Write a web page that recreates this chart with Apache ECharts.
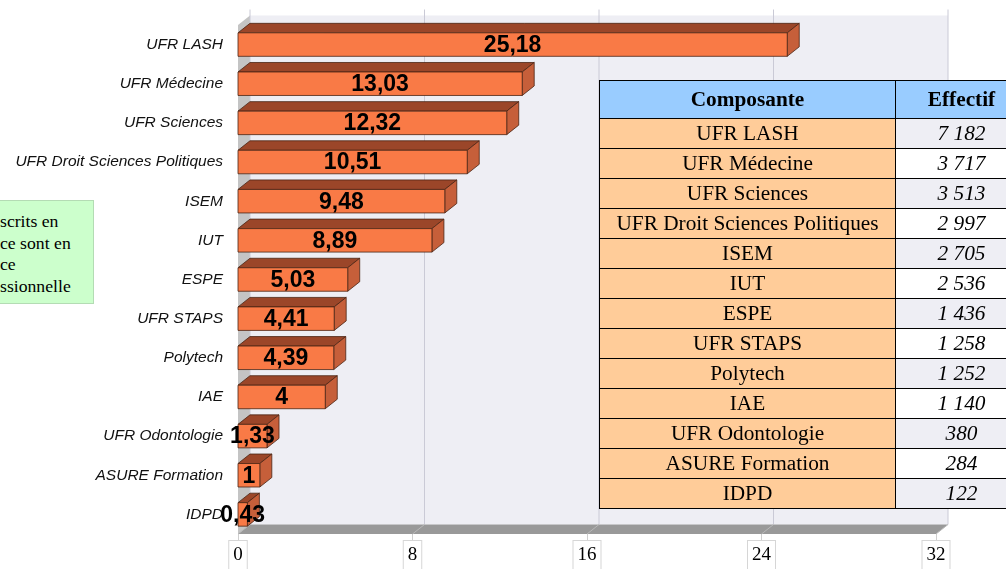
<!DOCTYPE html>
<html>
<head>
<meta charset="utf-8">
<title>Composantes</title>
<script src="https://cdn.jsdelivr.net/npm/echarts@6/dist/echarts.min.js"></script>
<style>
html, body { margin: 0; padding: 0; background: #fff; overflow: hidden; }
#main { position: absolute; left: 0; top: 0; width: 1006px; height: 569px; }
.note {
  position: absolute; left: -1px; top: 200px; width: 95px; height: 104px;
  box-sizing: border-box; padding-top: 10px;
  background: #ccffcc; border: 1px solid #b4dcb4;
  font-family: "Liberation Serif", serif; font-size: 17.7px; line-height: 21.7px;
  color: #000; white-space: nowrap; overflow: hidden;
}
#table {
  position: absolute; left: 599px; top: 80px; width: 428px;
  border-collapse: collapse; table-layout: fixed;
  font-family: "Liberation Serif", serif; font-size: 21.3px; color: #000;
}
#table td, #table th { border: 1.5px solid #000; padding: 0; text-align: center; height: 29px; white-space: nowrap; }
#table th { background: #99ccff; height: 37px; font-weight: bold; }
#table td.name { background: #ffcc99; }
#table td.val { font-style: italic; background: #fff; }
#table tr.odd td.val { background: #eeeef4; }
</style>
</head>
<body>
<div id="main"></div>
<div class="note">scrits en<br>ce sont en<br>ce<br>ssionnelle</div>
<table id="table"></table>
<script>
var categories = ['UFR LASH', 'UFR Médecine', 'UFR Sciences', 'UFR Droit Sciences Politiques', 'ISEM', 'IUT', 'ESPE', 'UFR STAPS', 'Polytech', 'IAE', 'UFR Odontologie', 'ASURE Formation', 'IDPD'];
var percents = [25.18, 13.03, 12.32, 10.51, 9.48, 8.89, 5.03, 4.41, 4.39, 4, 1.33, 1, 0.43];
var effectifs = [7182, 3717, 3513, 2997, 2705, 2536, 1436, 1258, 1252, 1140, 380, 284, 122];
var tableHeader = ['Composante', 'Effectif'];
var xTicks = [0, 8, 16, 24, 32];

// depth of the fake 3d
var DX = 12, DY = 9.5;

function fmtPct(v) {
  return String(v).replace('.', ',');
}
function fmtInt(n) {
  return String(n).replace(/\B(?=(\d{3})+(?!\d))/g, ' ');
}

// table
var html = '<colgroup><col style="width:296px"><col style="width:132px"></colgroup>';
html += '<tr><th>' + tableHeader[0] + '</th><th>' + tableHeader[1] + '</th></tr>';
for (var i = 0; i < categories.length; i++) {
  html += '<tr class="' + (i % 2 == 0 ? 'odd' : 'even') + '"><td class="name">' + categories[i] +
    '</td><td class="val">' + fmtInt(effectifs[i]) + '</td></tr>';
}
document.getElementById('table').innerHTML = html;

var myChart = echarts.init(document.getElementById('main'));

var option = {
  animation: false,
  grid: { left: 238, top: 25, width: 698, height: 509, outerBoundsMode: 'none' },
  xAxis: {
    type: 'value',
    min: 0,
    max: 32,
    interval: 8,
    axisLine: { show: false },
    axisTick: { show: true, length: 7, lineStyle: { color: '#cfcfcf' } },
    splitLine: { show: false },
    axisLabel: {
      margin: 7,
      fontFamily: 'Liberation Sans Narrow',
      fontSize: 19,
      color: '#000',
      borderColor: '#d6d6d6',
      borderWidth: 1,
      padding: [5, 4, 12, 4],
      backgroundColor: '#fff'
    }
  },
  yAxis: {
    type: 'category',
    inverse: true,
    data: categories,
    axisLine: { show: false },
    axisTick: { show: false },
    axisLabel: {
      margin: 15,
      fontFamily: 'Liberation Sans',
      fontStyle: 'italic',
      fontSize: 15.5,
      color: '#111'
    }
  },
  series: [
    {
      // walls, floor and grid lines
      type: 'custom',
      silent: true,
      z: 1,
      data: [[0, 0]],
      renderItem: function (params, api) {
        var cs = params.coordSys;
        var l = cs.x, r = cs.x + cs.width, t = cs.y, b = cs.y + cs.height;
        var children = [
          { type: 'rect', shape: { x: l + DX, y: t - DY, width: cs.width, height: cs.height }, style: { fill: '#eeeef4' } },
          { type: 'polygon', shape: { points: [[l, t], [l + DX, t - DY], [l + DX, b - DY], [l, b]] }, style: { fill: '#c4c4c4' } },
          { type: 'polygon', shape: { points: [[l, b], [r, b], [r + DX, b - DY], [l + DX, b - DY]] }, style: { fill: '#999999' } }
        ];
        xTicks.forEach(function (v) {
          var x = api.coord([v, 0])[0];
          children.push({ type: 'line', shape: { x1: x + DX, y1: t - DY - 6, x2: x + DX, y2: b - DY }, style: { stroke: '#cacad6', lineWidth: 1 } });
          children.push({ type: 'line', shape: { x1: x, y1: b, x2: x + DX, y2: b - DY }, style: { stroke: '#b8b8b8', lineWidth: 1 } });
        });
        return { type: 'group', children: children };
      }
    },
    {
      type: 'custom',
      z: 2,
      data: percents.map(function (v, i) { return [v, i]; }),
      renderItem: function (params, api) {
        var v = api.value(0);
        var start = api.coord([0, api.value(1)]);
        var end = api.coord([v, api.value(1)]);
        var h = api.size([0, 1])[1] * 0.6;
        var x0 = start[0], x1 = end[0];
        var yT = end[1] - h / 2, yB = end[1] + h / 2;
        var edge = '#4a2414';
        return {
          type: 'group',
          children: [
            { type: 'polygon', shape: { points: [[x0, yT], [x1, yT], [x1 + DX, yT - DY], [x0 + DX, yT - DY]] }, style: { fill: '#9b4629', stroke: edge, lineWidth: 0.8 } },
            { type: 'polygon', shape: { points: [[x1, yT], [x1 + DX, yT - DY], [x1 + DX, yB - DY], [x1, yB]] }, style: { fill: '#c65f3a', stroke: edge, lineWidth: 0.8 } },
            { type: 'rect', shape: { x: x0, y: yT, width: x1 - x0, height: h }, style: { fill: '#f97a46', stroke: edge, lineWidth: 0.8 } },
            {
              type: 'text', z2: 10,
              style: {
                text: fmtPct(v), x: (x0 + x1) / 2, y: end[1] + 1,
                align: 'center', verticalAlign: 'middle',
                font: 'bold 23px "Liberation Sans"', fill: '#000'
              }
            }
          ]
        };
      }
    }
  ]
};

myChart.setOption(option);
</script>
</body>
</html>
